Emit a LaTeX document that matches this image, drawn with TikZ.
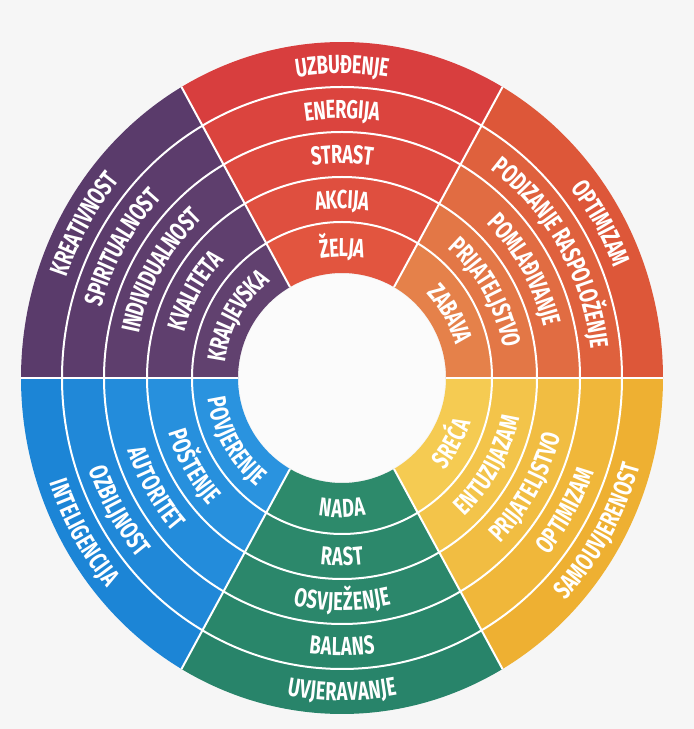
\documentclass[tikz,border=0pt]{standalone}
\usepackage{fontspec}
\usetikzlibrary{decorations.text}
\newfontfamily\wheelfont{Fira Sans}[FakeStretch=0.7]
\newcommand\labelfont{\wheelfont\bfseries\fontsize{26}{28}\selectfont}

% page and hole
\definecolor{pagebg}{HTML}{F6F6F6}
\definecolor{holebg}{HTML}{FBFBFB}
% sector colours: outer ring / inner ring
\definecolor{redOut}{HTML}{D83E3E}    \definecolor{redIn}{HTML}{E2553F}
\definecolor{orangeOut}{HTML}{DD5739} \definecolor{orangeIn}{HTML}{E5814A}
\definecolor{yellowOut}{HTML}{EEB032} \definecolor{yellowIn}{HTML}{F5CB52}
\definecolor{greenOut}{HTML}{28846A}  \definecolor{greenIn}{HTML}{2D8A6B}
\definecolor{blueOut}{HTML}{1C85D6}   \definecolor{blueIn}{HTML}{2A93DF}
\definecolor{purpleOut}{HTML}{5A3B6B} \definecolor{purpleIn}{HTML}{61416F}

% ring boundaries, inner hole to outer edge (horizontal / vertical radii)
\def\rxlist{{104,150,195,238,280,321}}
\def\rylist{{105,156,201,246,291,336}}

\tikzset{
  separator/.style={draw=white, line width=2pt},
}

% radii of ring #1: inner (\rxi,\ryi) and outer (\rxo,\ryo)
\newcommand\ringradii[1]{%
  \pgfmathtruncatemacro\jin{#1}\pgfmathtruncatemacro\jout{#1+1}%
  \pgfmathsetmacro\rxi{\rxlist[\jin]}\pgfmathsetmacro\ryi{\rylist[\jin]}%
  \pgfmathsetmacro\rxo{\rxlist[\jout]}\pgfmathsetmacro\ryo{\rylist[\jout]}}

% one annular cell: #1 start angle, #2 ring index (0 = innermost), #3 colour
\newcommand\wheelcell[3]{%
  \ringradii{#2}%
  \pgfmathsetmacro\aend{#1+60}%
  \pgfmathsetmacro\xs{\rxo*cos(#1)}\pgfmathsetmacro\ys{\ryo*sin(#1)}%
  \pgfmathsetmacro\xe{\rxi*cos(\aend)}\pgfmathsetmacro\ye{\ryi*sin(\aend)}%
  \fill[#3] (\xs,\ys) arc[start angle=#1, end angle=\aend, x radius=\rxo, y radius=\ryo]
    -- (\xe,\ye) arc[start angle=\aend, end angle=#1, x radius=\rxi, y radius=\ryi] -- cycle;}

% curved label: #1 start angle, #2 ring index, #3 t (upper half) or b (lower half), #4 text
\newcommand\wheellabel[4]{%
  \ringradii{#2}%
  \pgfmathsetmacro\rxm{(\rxi+\rxo)/2}%
  \pgfmathsetmacro\rym{(\ryi+\ryo)/2}%
  \if#3t\pgfmathsetmacro\afrom{#1+60}\pgfmathsetmacro\ato{#1}%
  \else\pgfmathsetmacro\afrom{#1}\pgfmathsetmacro\ato{#1+60}\fi
  \pgfmathsetmacro\xs{\rxm*cos(\afrom)}\pgfmathsetmacro\ys{\rym*sin(\afrom)}%
  \path[decorate, decoration={text along path, text align=center, raise=-9pt,
      text color=white, text={|\labelfont|#4}}]
    (\xs,\ys) arc[start angle=\afrom, end angle=\ato, x radius=\rxm, y radius=\rym];}

% whole sector: #1 start angle, #2 colour name, #3 t/b, #4..#8 labels from outer to inner ring
\newcommand\wheelsector[8]{%
  \foreach \k in {0,...,4}{%
    \pgfmathtruncatemacro\pct{25*\k}%
    \colorlet{cellcol}{#2Out!\pct!#2In}%
    \wheelcell{#1}{\k}{cellcol}}%
  \wheellabel{#1}{4}{#3}{#4}%
  \wheellabel{#1}{3}{#3}{#5}%
  \wheellabel{#1}{2}{#3}{#6}%
  \wheellabel{#1}{1}{#3}{#7}%
  \wheellabel{#1}{0}{#3}{#8}}

\begin{document}
\begin{tikzpicture}[x=1pt, y=1pt]
\useasboundingbox (0,0) rectangle (694,729);
\fill[pagebg] (0,0) rectangle (694,729);

\begin{scope}[shift={(342,351)}]
  \wheelsector{0}{orange}{t}{OPTIMIZAM}{PODIZANJE RASPOLOŽENJE}{POMLAĐIVANJE}{PRIJATELJSTVO}{ZABAVA}
  \wheelsector{60}{red}{t}{UZBUĐENJE}{ENERGIJA}{STRAST}{AKCIJA}{ŽELJA}
  \wheelsector{120}{purple}{t}{KREATIVNOST}{SPIRITUALNOST}{INDIVIDUALNOST}{KVALITETA}{KRALJEVSKA}
  \wheelsector{180}{blue}{b}{INTELIGENCIJA}{OZBILJNOST}{AUTORITET}{POŠTENJE}{POVJERENJE}
  \wheelsector{240}{green}{b}{UVJERAVANJE}{BALANS}{OSVJEŽENJE}{RAST}{NADA}
  \wheelsector{300}{yellow}{b}{SAMOUVJERENOST}{OPTIMIZAM}{PRIJATELJSTVO}{ENTUZIJAZAM}{SREĆA}

  % white ring separators
  \foreach \k in {1,...,4}{
    \pgfmathsetmacro\rx{\rxlist[\k]}\pgfmathsetmacro\ry{\rylist[\k]}
    \draw[separator] (0,0) ellipse[x radius=\rx, y radius=\ry];
  }
  % white sector separators
  \foreach \a in {0,60,...,300}{
    \pgfmathsetmacro\xa{104*cos(\a)}\pgfmathsetmacro\ya{105*sin(\a)}
    \pgfmathsetmacro\xb{321*cos(\a)}\pgfmathsetmacro\yb{336*sin(\a)}
    \draw[separator] (\xa,\ya) -- (\xb,\yb);
  }
  % centre hole
  \fill[holebg] (0,0) ellipse[x radius=103, y radius=104];
\end{scope}
\end{tikzpicture}
\end{document}
